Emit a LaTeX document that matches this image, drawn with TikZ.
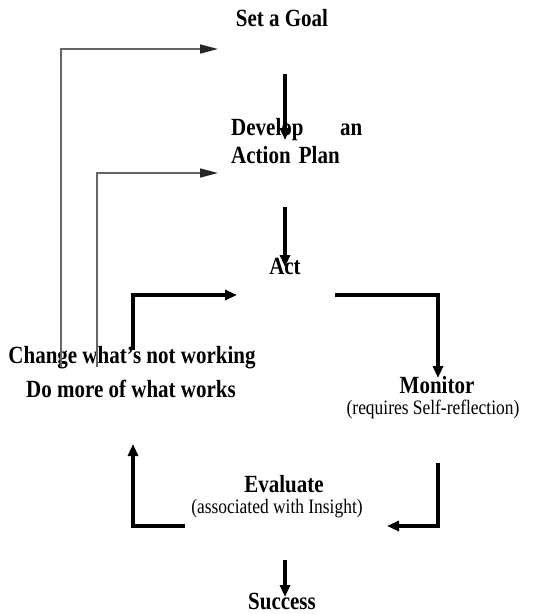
\documentclass[tikz,border=0pt]{standalone}
\usepackage{fontspec}
\setmainfont{Liberation Serif}[FakeStretch=0.85]
\usetikzlibrary{arrows.meta}
\newcommand{\colx}{285}
\newcommand{\loopl}{133}
\newcommand{\loopr}{438}
\newcommand{\pt}[3]{\coordinate (#1) at (#2,#3);}
\begin{document}
\begin{tikzpicture}[
      x=1pt, y=-1pt, %one pixel of the sketch
      title/.style={font=\fontsize{24.7}{28}\selectfont\bfseries, inner sep=0pt, anchor=base},
      note/.style={font=\fontsize{20.5}{22}\selectfont, inner sep=0pt, anchor=base},
      flow/.style={line width=4pt, line join=miter, -{Triangle[length=12pt,width=10pt]}},
      back/.style={line width=1.5pt, draw=black!60, -{Triangle[length=18pt,width=9pt,color=black!85]}}
    ]
    \useasboundingbox (0,0) rectangle (560,614);
    %Name the steps
    \node[title] (goal) at (282,26) {Set a Goal};
    \node[title, anchor=base west, text width=131pt, align=left] (plan) at (231,135) {Develop\hfill an\\Action Plan};
    \node[title] (act) at (\colx,274) {Act};
    \node[title] (change) at (132,363) {Change what's not working};
    \node[title] (domore) at (131,397) {Do more of what works};
    \node[title] (monitor) at (437,393) {Monitor};
    \node[note] (monnote) at (433,414) {(requires Self-reflection)};
    \node[title] (eval) at (284,492) {Evaluate};
    \node[note] (evalnote) at (277,513) {(associated with Insight)};
    \node[title] (success) at (282,609) {Success};
    % ends of the arrows
    \pt{a1}{\colx}{74} \pt{b1}{\colx}{140}
    \pt{a2}{\colx}{207} \pt{b2}{\colx}{267}
    \pt{a3}{\loopl}{350} \pt{b3}{237}{295}
    \pt{a4}{335}{295} \pt{b4}{\loopr}{378}
    \pt{a5}{\loopr}{463} \pt{b5}{387}{526}
    \pt{a6}{185}{526} \pt{b6}{\loopl}{444}
    \pt{a7}{\colx}{560} \pt{b7}{\colx}{597}
    \pt{g1}{61}{367} \pt{h1}{218}{49}
    \pt{g2}{97}{367} \pt{h2}{218}{173}
    % Draw the main chain
    \draw[flow] (a1) -- (b1);
    \draw[flow] (a2) -- (b2);
    \draw[flow] (a7) -- (b7);
    % Draw the loop round Act
    \draw[flow] (a3) |- (b3);
    \draw[flow] (a4) -| (b4);
    \draw[flow] (a5) |- (b5);
    \draw[flow] (a6) -| (b6);
    % feedback lines
    \draw[back] (g1) |- (h1);
    \draw[back] (g2) |- (h2);
\end{tikzpicture}
\end{document}
